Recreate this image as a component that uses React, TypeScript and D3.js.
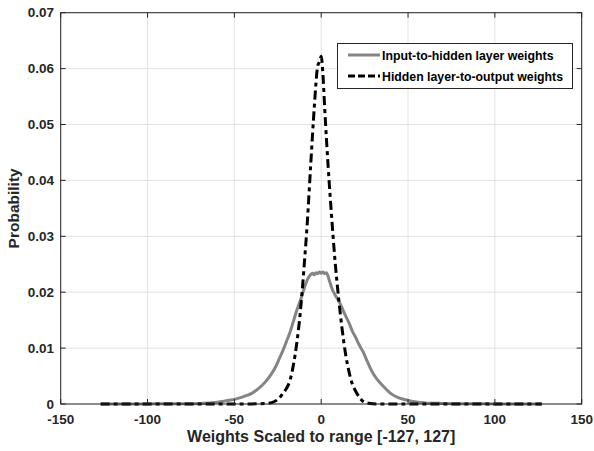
import React from "react";
import * as d3 from "d3";

const xTicks = [-150, -100, -50, 0, 50, 100, 150];
const yTicks = [0, 0.01, 0.02, 0.03, 0.04, 0.05, 0.06, 0.07];

const inputX = [-127, -100, -80, -70, -64, -60, -56, -52, -48, -44, -40, -36, -32, -28, -26, -24, -22, -20, -18, -16, -14, -12, -10, -8, -6, -5, -4, -3, -2, -1, 0, 1, 2, 3, 4, 5, 6, 8, 10, 12, 14, 16, 18, 20, 22, 24, 26, 28, 30, 32, 36, 40, 44, 48, 52, 56, 60, 70, 80, 100, 127];
const inputY = [0, 0.00002, 0.00005, 0.0001, 0.0002, 0.0003, 0.0005, 0.0007, 0.001, 0.0014, 0.0019, 0.0028, 0.004, 0.0057, 0.0068, 0.0082, 0.0096, 0.0112, 0.0128, 0.0148, 0.0168, 0.0185, 0.0205, 0.0222, 0.0232, 0.0234, 0.0231, 0.0235, 0.0233, 0.0236, 0.0234, 0.0236, 0.0233, 0.0235, 0.0228, 0.0218, 0.0208, 0.0195, 0.0185, 0.0172, 0.0158, 0.0145, 0.013, 0.0118, 0.0105, 0.0094, 0.008, 0.0066, 0.0054, 0.0045, 0.0031, 0.0019, 0.0012, 0.0008, 0.0005, 0.0003, 0.0002, 0.0001, 0.00005, 0.00002, 0];

const hiddenX = [-127, -100, -60, -40, -32, -28, -24, -22, -20, -18, -16, -14, -12, -10, -8, -6, -4, -2, -1, 0, 1, 2, 4, 6, 8, 10, 12, 14, 16, 18, 20, 22, 24, 28, 32, 40, 60, 100, 127];
const hiddenY = [0, 0, 0, 0.00002, 0.0001, 0.0003, 0.0011, 0.0019, 0.0028, 0.0042, 0.007, 0.011, 0.0165, 0.024, 0.0325, 0.043, 0.053, 0.0605, 0.0612, 0.0622, 0.059, 0.053, 0.0425, 0.0335, 0.0255, 0.019, 0.0135, 0.009, 0.0058, 0.0035, 0.0022, 0.0012, 0.0005, 0.0001, 0.00002, 0, 0, 0, 0];

const seriesNames = ["Input-to-hidden layer weights", "Hidden layer-to-output weights"];

const W = 594, H = 451;
const L = 60.7, R = 581.7, T = 12.7, B = 404;
const FONT = "'Liberation Sans', Arial, sans-serif";
const AX = "#262626";

export default function App() {
  const x = d3.scaleLinear().domain([-150, 150]).range([L, R]);
  const y = d3.scaleLinear().domain([0, 0.07]).range([B, T]);
  const line = d3.line<[number, number]>().x(d => x(d[0])).y(d => y(d[1])).curve(d3.curveMonotoneX);
  const inputPts = inputX.map((v, i) => [v, inputY[i]] as [number, number]);
  const hiddenPts = hiddenX.map((v, i) => [v, hiddenY[i]] as [number, number]);
  const dash = "9,4,4,4";

  return (
    <svg width={W} height={H} style={{ position: "absolute", left: 0, top: 0, background: "#fff" }} fontFamily={FONT}>
      <rect x={0} y={0} width={W} height={H} fill="#fff" />
      {xTicks.map(t => (
        <line key={"gx" + t} x1={x(t)} x2={x(t)} y1={T} y2={B} stroke="#e3e3e3" strokeWidth={1} />
      ))}
      {yTicks.map(t => (
        <line key={"gy" + t} x1={L} x2={R} y1={y(t)} y2={y(t)} stroke="#e3e3e3" strokeWidth={1} />
      ))}
      <path d={line(inputPts) || ""} fill="none" stroke="#858585" strokeWidth={3} strokeLinejoin="round" />
      <path d={line(hiddenPts) || ""} fill="none" stroke="#000" strokeWidth={3} strokeDasharray={dash} />
      <rect x={L} y={T} width={R - L} height={B - T} fill="none" stroke={AX} strokeWidth={1} />
      {xTicks.map(t => (
        <g key={"tx" + t}>
          <line x1={x(t)} x2={x(t)} y1={B} y2={B - 5} stroke={AX} />
          <line x1={x(t)} x2={x(t)} y1={T} y2={T + 5} stroke={AX} />
          <text x={x(t)} y={424} textAnchor="middle" fontSize={13.5} fontWeight="bold" fill={AX}>{t}</text>
        </g>
      ))}
      {yTicks.map(t => (
        <g key={"ty" + t}>
          <line x1={L} x2={L + 5} y1={y(t)} y2={y(t)} stroke={AX} />
          <line x1={R} x2={R - 5} y1={y(t)} y2={y(t)} stroke={AX} />
          <text x={54} y={y(t) + 4.5} textAnchor="end" fontSize={13.5} fontWeight="bold" fill={AX}>{t === 0 ? "0" : t.toFixed(2)}</text>
        </g>
      ))}
      <text x={(L + R) / 2} y={442} textAnchor="middle" fontSize={16} fontWeight="bold" fill={AX}>Weights Scaled to range [-127, 127]</text>
      <text transform={`translate(19,${(T + B) / 2}) rotate(-90)`} textAnchor="middle" fontSize={15.5} fontWeight="bold" fill={AX}>Probability</text>
      <rect x={337.5} y={43.5} width={235} height={45} fill="#fff" stroke={AX} strokeWidth={1} />
      <line x1={348} x2={380} y1={55} y2={55} stroke="#858585" strokeWidth={3} />
      <text x={382} y={59.5} fontSize={12.3} fontWeight="bold" fill="#000">{seriesNames[0]}</text>
      <line x1={348} x2={380} y1={76} y2={76} stroke="#000" strokeWidth={3} strokeDasharray="7,3" />
      <text x={382} y={80.5} fontSize={12.3} fontWeight="bold" fill="#000">{seriesNames[1]}</text>
    </svg>
  );
}
